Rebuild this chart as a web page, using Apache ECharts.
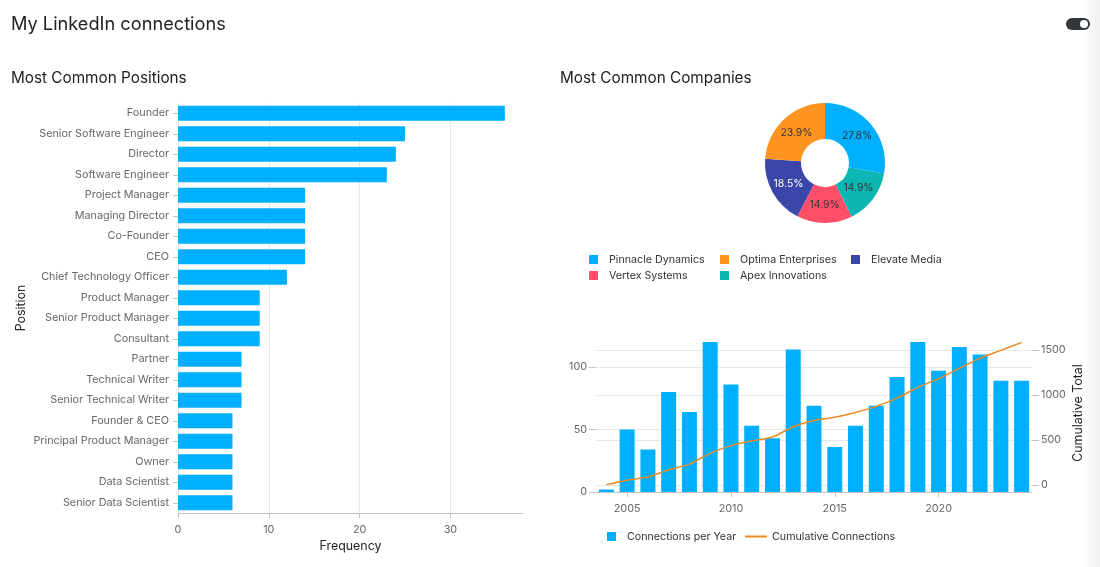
<!DOCTYPE html>
<html>
<head>
<meta charset="utf-8">
<title>My LinkedIn connections</title>
<script src="https://cdn.jsdelivr.net/npm/echarts@6/dist/echarts.min.js"></script>
<style>
  html, body { margin: 0; padding: 0; background: #fff; overflow: hidden; }
  #chart { width: 1100px; height: 567px; }
  .edge { position: absolute; top: 0; right: 0; width: 16px; height: 567px;
    background: linear-gradient(to right, rgba(238,238,238,0), #eeeeee); pointer-events: none; }
  .toggle { position: absolute; left: 1066px; top: 18px; width: 24px; height: 12px;
    border-radius: 6px; background: #33363b; }
  .toggle::after { content: ''; position: absolute; left: 14px; top: 2px; width: 8px; height: 8px;
    border-radius: 50%; background: #fff; }
</style>
</head>
<body>
<div id="chart"></div>
<div class="edge"></div>
<div class="toggle"></div>
<script>
const positions = ['Founder', 'Senior Software Engineer', 'Director', 'Software Engineer', 'Project Manager',
  'Managing Director', 'Co-Founder', 'CEO', 'Chief Technology Officer', 'Product Manager',
  'Senior Product Manager', 'Consultant', 'Partner', 'Technical Writer', 'Senior Technical Writer',
  'Founder & CEO', 'Principal Product Manager', 'Owner', 'Data Scientist', 'Senior Data Scientist'];
const positionCounts = [36, 25, 24, 23, 14, 14, 14, 14, 12, 9, 9, 9, 7, 7, 7, 6, 6, 6, 6, 6];

// clockwise from 12 o'clock
const companies = ['Pinnacle Dynamics', 'Apex Innovations', 'Vertex Systems', 'Elevate Media', 'Optima Enterprises'];
const companyShares = [27.8, 14.9, 14.9, 18.5, 23.9];
const companyColors = ['#00b0ff', '#0cb7b3', '#ff4f69', '#3a46a8', '#ff9520'];
const companyLabelColors = ['#333', '#333', '#333', '#fff', '#333'];
const legendOrder = ['Pinnacle Dynamics', 'Optima Enterprises', 'Elevate Media', 'Vertex Systems', 'Apex Innovations'];

const years = ['2004', '2005', '2006', '2007', '2008', '2009', '2010', '2011', '2012', '2013', '2014',
  '2015', '2016', '2017', '2018', '2019', '2020', '2021', '2022', '2023', '2024'];
const perYear = [2, 50, 34, 80, 64, 120, 86, 53, 43, 114, 69, 36, 53, 69, 92, 120, 97, 116, 110, 89, 89];
const cumulative = [2, 52, 86, 166, 230, 350, 436, 489, 532, 646, 715, 751, 804, 873, 965, 1085, 1182, 1298, 1408, 1497, 1586];

const FONT = 'Inter, "Noto Sans", sans-serif';
const BLUE = '#00b0ff';
const ORANGE = '#ef8a1f';
const axisGrey = '#c4c4c4';
const gridGrey = '#e9e9e9';
const labelGrey = '#666';
const inkDark = '#222';
const PIE_X = 825;
const PIE_Y = 163;

const chart = echarts.init(document.getElementById('chart'));

const showEveryFifth = (index, value) => Number(value) % 5 === 0;
const legendSlots = [[589, 254], [720, 254], [851, 254], [589, 270], [720, 270]];

chart.setOption({
  animation: false,
  backgroundColor: '#fff',
  textStyle: { fontFamily: FONT },
  title: [
    { text: 'My LinkedIn connections', left: 11, top: 16, padding: 0, textStyle: { fontSize: 18.2, fontWeight: 400, color: inkDark, fontFamily: FONT } },
    { text: 'Most Common Positions', left: 11, top: 71, padding: 0, textStyle: { fontSize: 15.3, fontWeight: 400, color: inkDark, fontFamily: FONT } },
    { text: 'Most Common Companies', left: 560, top: 71, padding: 0, textStyle: { fontSize: 15.3, fontWeight: 400, color: inkDark, fontFamily: FONT } }
  ],
  legend: [
    ...legendOrder.map((name, i) => ({
      data: [name],
      left: legendSlots[i][0],
      top: legendSlots[i][1],
      padding: 0,
      icon: 'rect',
      itemWidth: 9,
      itemHeight: 9,
      textStyle: { fontSize: 10.7, color: '#333', fontFamily: FONT, padding: [0, 0, 0, 6] }
    })),
    {
      data: ['Connections per Year'],
      left: 607, top: 531, padding: 0, icon: 'rect', itemWidth: 9, itemHeight: 9,
      textStyle: { fontSize: 10.7, color: '#333', fontFamily: FONT, padding: [0, 0, 0, 6] }
    },
    {
      data: ['Cumulative Connections'],
      left: 745, top: 531, padding: 0, icon: 'rect', itemWidth: 22, itemHeight: 2,
      textStyle: { fontSize: 10.7, color: '#333', fontFamily: FONT }
    }
  ],
  grid: [
    { left: 178, top: 103, width: 345, height: 410 },
    { left: 596, top: 342, width: 436, height: 150 }
  ],
  xAxis: [
    {
      type: 'value', gridIndex: 0, min: 0, max: 38,
      name: 'Frequency', nameLocation: 'middle', nameGap: 25,
      nameTextStyle: { fontSize: 12.4, color: inkDark },
      axisLine: { show: true, lineStyle: { color: axisGrey } },
      axisTick: { show: true, length: 5, lineStyle: { color: axisGrey }, customValues: [0, 10, 20, 30] },
      axisLabel: { fontSize: 10.8, color: labelGrey, margin: 11, customValues: [0, 10, 20, 30] },
      splitLine: { show: true, lineStyle: { color: gridGrey } }
    },
    {
      type: 'category', gridIndex: 1, data: years,
      axisLine: { show: true, lineStyle: { color: axisGrey } },
      axisTick: { show: true, alignWithLabel: true, length: 5, interval: showEveryFifth, lineStyle: { color: axisGrey } },
      axisLabel: { fontSize: 10.8, color: labelGrey, margin: 11, interval: showEveryFifth },
      splitLine: { show: false }
    }
  ],
  yAxis: [
    {
      type: 'category', gridIndex: 0, data: positions, inverse: true,
      name: 'Position', nameLocation: 'middle', nameGap: 151, nameRotate: 90,
      nameTextStyle: { fontSize: 12.4, color: inkDark },
      axisLine: { show: false },
      axisTick: { show: true, alignWithLabel: true, length: 5, lineStyle: { color: axisGrey } },
      axisLabel: { fontSize: 10.8, color: labelGrey, margin: 9, interval: 0, padding: [2, 0, 0, 0] },
      splitLine: { show: false }
    },
    {
      type: 'value', gridIndex: 1, min: 0, max: 120,
      axisLine: { show: false },
      axisTick: { show: true, length: 7, lineStyle: { color: axisGrey }, customValues: [0, 50, 100] },
      axisLabel: { fontSize: 10.8, color: labelGrey, margin: 9, customValues: [0, 50, 100] },
      splitLine: { show: true, lineStyle: { color: gridGrey } }
    },
    {
      type: 'value', gridIndex: 1, position: 'right', min: -80, max: 1590,
      name: 'Cumulative Total', nameLocation: 'middle', nameGap: 40, nameRotate: 90,
      nameTextStyle: { fontSize: 12.4, color: inkDark, padding: [0, 0, 0, 8] },
      axisLine: { show: false },
      axisTick: { show: true, length: 7, lineStyle: { color: axisGrey }, customValues: [0, 500, 1000, 1500] },
      axisLabel: { fontSize: 10.8, color: labelGrey, margin: 9, customValues: [0, 500, 1000, 1500], formatter: (v) => String(v) },
      splitLine: { show: true, lineStyle: { color: gridGrey } }
    }
  ],
  series: [
    {
      name: 'Frequency', type: 'bar', xAxisIndex: 0, yAxisIndex: 0,
      data: positionCounts, barWidth: 15, itemStyle: { color: BLUE }
    },
    {
      name: 'Companies', type: 'pie', center: [PIE_X, PIE_Y], radius: [24, 60], startAngle: 90, clockwise: true,
      data: companies.map((name, i) => ({
        name,
        value: companyShares[i],
        itemStyle: { color: companyColors[i] },
        label: { color: companyLabelColors[i] }
      })),
      label: { position: 'inside', fontSize: 10.4, formatter: (p) => p.value.toFixed(1) + '%' },
      labelLine: { show: false },
      // labels sit a little nearer the hole than the middle of the ring
      labelLayout: (p) => ({
        dx: (PIE_X - (p.labelRect.x + p.labelRect.width / 2)) * 0.07,
        dy: (PIE_Y - (p.labelRect.y + p.labelRect.height / 2)) * 0.07
      })
    },
    {
      name: 'Connections per Year', type: 'bar', xAxisIndex: 1, yAxisIndex: 1,
      data: perYear, barWidth: 15, itemStyle: { color: BLUE }
    },
    {
      name: 'Cumulative Connections', type: 'line', xAxisIndex: 1, yAxisIndex: 2,
      data: cumulative, smooth: 0.25, showSymbol: false, symbol: 'none',
      lineStyle: { color: ORANGE, width: 1.5 }, itemStyle: { color: ORANGE }, z: 5
    }
  ]
});
</script>
</body>
</html>
